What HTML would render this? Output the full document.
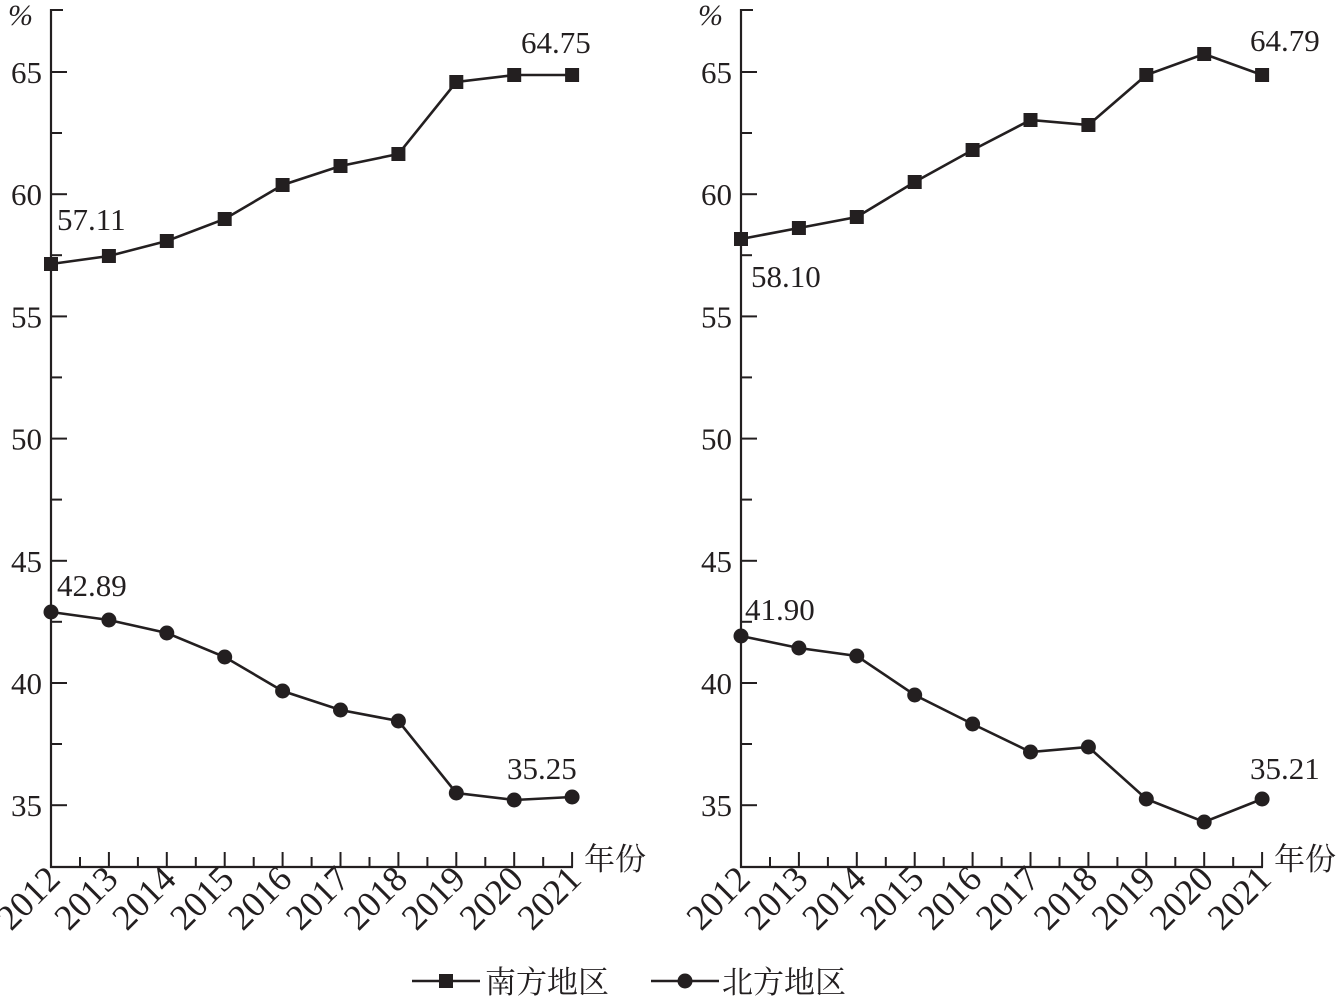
<!DOCTYPE html>
<html><head><meta charset="utf-8"><style>
html,body{margin:0;padding:0;background:#fff;}
svg{display:block;}
text{font-family:"Liberation Serif","Noto Serif CJK SC",serif;fill:#231f20;}
</style></head><body>
<svg id="s" width="1343" height="997" xmlns="http://www.w3.org/2000/svg"></svg>
<script>
const s=document.getElementById('s');let h='';
const C='#231f20';
function panel(ax,south,north,sl,nl){
  const ex=ax+521;
  h+=`<line x1="${ax}" y1="9" x2="${ax}" y2="868" stroke="${C}" stroke-width="2.2"/>`;
  h+=`<line x1="${ax-1}" y1="867" x2="${ex+1}" y2="867" stroke="${C}" stroke-width="2.2"/>`;
  h+=`<line x1="${ax}" y1="10" x2="${ax+12}" y2="10" stroke="${C}" stroke-width="2"/>`;
  h+=`<text x="${ax-18}" y="25" font-size="30" text-anchor="end" font-style="italic">%</text>`;
  const lab=[65,60,55,50,45,40,35];
  for(let i=0;i<7;i++){const y=72+i*122.2;
    h+=`<line x1="${ax}" y1="${y}" x2="${ax+16}" y2="${y}" stroke="${C}" stroke-width="2"/>`;
    h+=`<text x="${ax-9}" y="${y+11}" font-size="31" text-anchor="end">${lab[i]}</text>`;
    if(i<6)h+=`<line x1="${ax}" y1="${y+61}" x2="${ax+11}" y2="${y+61}" stroke="${C}" stroke-width="2"/>`;}
  const xs=[];for(let i=0;i<10;i++)xs.push(ax+i*57.9);
  for(let i=0;i<10;i++){const x=xs[i];
    if(i>0)h+=`<line x1="${x}" y1="867" x2="${x}" y2="852" stroke="${C}" stroke-width="2"/>`;
    if(i<9)h+=`<line x1="${x+29}" y1="867" x2="${x+29}" y2="857" stroke="${C}" stroke-width="2"/>`;
    h+=`<text transform="translate(${x+11},${881}) rotate(-45)" font-size="36" text-anchor="end">${2012+i}</text>`;}
  h+=`<text x="${ex+12}" y="870" font-size="31" font-family="Noto Sans CJK SC,sans-serif">年份</text>`;
  let p=south.map((y,i)=>`${xs[i]},${y}`).join(' ');
  h+=`<polyline points="${p}" fill="none" stroke="${C}" stroke-width="2.6"/>`;
  south.forEach((y,i)=>h+=`<rect x="${xs[i]-7}" y="${y-7}" width="14" height="14" fill="${C}"/>`);
  p=north.map((y,i)=>`${xs[i]},${y}`).join(' ');
  h+=`<polyline points="${p}" fill="none" stroke="${C}" stroke-width="2.6"/>`;
  north.forEach((y,i)=>h+=`<circle cx="${xs[i]}" cy="${y}" r="7.5" fill="${C}"/>`);
  sl.concat(nl).forEach(t=>h+=`<text x="${t[0]}" y="${t[1]}" font-size="31">${t[2]}</text>`);
}
panel(51,[264,256,241,219,185,166,154,82,75,75],[612,620,633,657,691,710,721,793,800,797],
 [[57,230,'57.11'],[521,53,'64.75']],[[57,596,'42.89'],[507,779,'35.25']]);
panel(741,[239,228,217,182,150,120,125,75,54,75],[636,648,656,695,724,752,747,799,822,799],
 [[751,287,'58.10'],[1250,51,'64.79']],[[745,620,'41.90'],[1250,779,'35.21']]);
h+=`<line x1="412" y1="981" x2="480" y2="981" stroke="${C}" stroke-width="2.6"/><rect x="439" y="974" width="14" height="14" fill="${C}"/>`;
h+=`<text x="485" y="993" font-size="31" font-family="Noto Sans CJK SC,sans-serif">南方地区</text>`;
h+=`<line x1="651" y1="981" x2="719" y2="981" stroke="${C}" stroke-width="2.6"/><circle cx="685" cy="981" r="7.5" fill="${C}"/>`;
h+=`<text x="722" y="993" font-size="31" font-family="Noto Sans CJK SC,sans-serif">北方地区</text>`;
s.innerHTML=h;
</script>
</body></html>
